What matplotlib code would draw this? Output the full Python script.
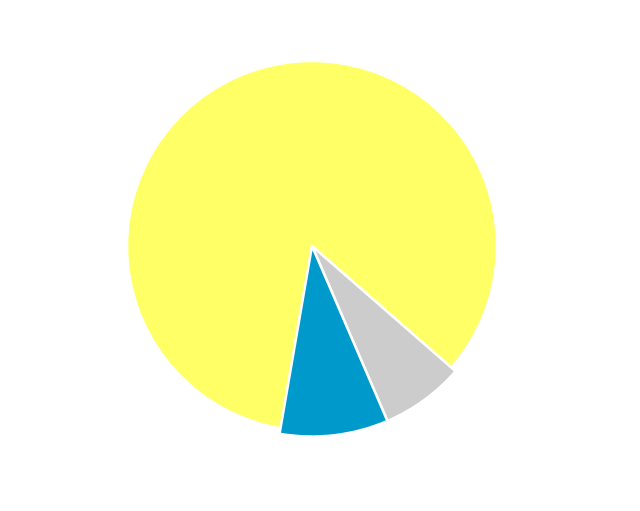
import matplotlib
matplotlib.use("Agg")
import matplotlib.pyplot as plt

# slice shares (percent)
categories = ["Yellow", "Gray", "Blue"]
shares = [83.7, 7.1, 9.2]
colors = ["#FFFF66", "#CCCCCC", "#0099CC"]
# the two small slices stick out a little past the big one
radius_scale = [1.0, 1.03, 1.03]

fig = plt.figure(figsize=(6.4, 5.11), dpi=100)
ax = fig.add_axes([0, 0, 1, 1])
ax.set_xlim(0, 640)
ax.set_ylim(0, 511)
ax.set_aspect("equal")
ax.axis("off")

R = 185
wedges, _ = ax.pie(shares, colors=colors, startangle=-99.8, counterclock=False,
                   center=(312, 265), radius=R,
                   wedgeprops=dict(edgecolor="white", linewidth=1.8))
for w, s in zip(wedges, radius_scale):
    w.set_radius(R * s)

ax.set_xlim(0, 640)
ax.set_ylim(0, 511)
fig.savefig("out.png", dpi=100, facecolor="white")
